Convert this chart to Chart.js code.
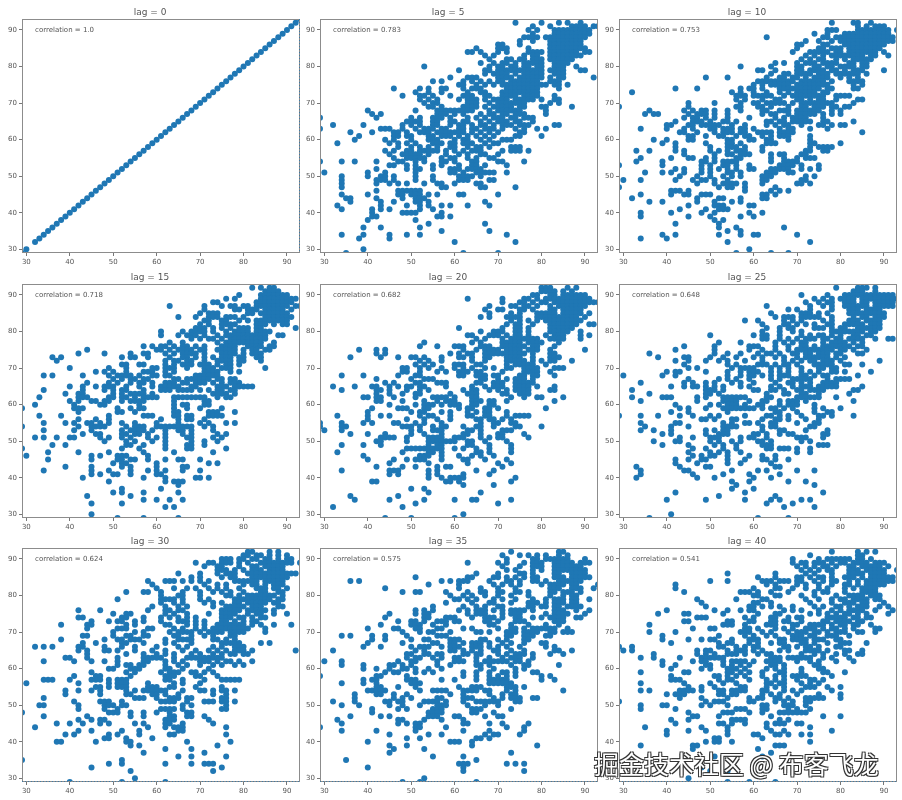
<!DOCTYPE html>
<html>
<head>
<meta charset="utf-8">
<script src="https://cdn.jsdelivr.net/npm/chart.js@4"></script>
<style>
  html, body { margin: 0; padding: 0; background: #fff; }
  #page { position: relative; width: 902px; height: 800px; overflow: hidden; }
  #page canvas { position: absolute; filter: blur(0.3px); }
  #mark {
    position: absolute; left: 594px; top: 745px; z-index: 2; white-space: nowrap;
    font: 25px "Noto Sans CJK SC", sans-serif; color: #fff;
    text-shadow: -1px -1px 0 #333, 1px -1px 0 #333, -1px 1px 0 #333, 1px 1px 0 #333;
  }
</style>
</head>
<body>
<div id="page"><div id="mark">掘金技术社区 @ 布客飞龙</div></div>
<script>
const lags = [0, 5, 10, 15, 20, 25, 30, 35, 40];
const correlations = ["1.0", "0.783", "0.753", "0.718", "0.682", "0.648", "0.624", "0.575", "0.541"];
const tickValues = [30, 40, 50, 60, 70, 80, 90];

// lag 0 sits on the diagonal, x = y
const lag0Values = [29,30,32,33,34,35,36,37,38,39,40,41,42,43,44,45,46,47,48,49,50,51,52,53,54,55,56,57,58,59,60,61,62,63,64,65,66,67,68,69,70,71,72,73,74,75,76,77,78,79,80,81,82,83,84,85,86,87,88,89,90,91,92,93];

// the others are read row by row: [y, [x, x, ...]]
const lag5Rows = [
[92,[74,80,84,86,89]],[91,[78,82,87,88,89,90,92,93]],[90,[77,79,83,84,85,86,87,88,89,90,91]],[89,[78,83,84,85,86,87,88,89,90,91]],
[88,[76,77,78,79,81,82,83,84,85,86,87,88,89,90]],[87,[75,78,82,83,84,85,86,87,88,89]],[86,[70,71,75,82,83,84,85,86,87,88,89]],
[85,[65,70,71,72,77,82,83,84,85,86,87,88,89,90]],[84,[63,64,66,70,72,77,78,79,80,82,83,84,85,86,87,88,90,91]],[83,[67,69,76,78,79,82,83,84,85,86,87,88,89]],
[82,[68,72,73,75,76,78,79,80,82,83,84,85,86,87]],[81,[66,69,71,72,74,76,77,78,79,80,83,84,85,86]],[80,[53,68,70,71,73,74,76,77,79,80,83,84,85,88]],
[79,[61,67,68,70,71,72,73,74,75,76,77,78,79,80,82,83,84,85,89,90]],[78,[67,69,70,71,72,74,76,77,78,79,80,83,84,85]],[77,[59,63,64,65,70,71,72,73,75,76,77,78,79,80,82,84,85,92]],
[76,[55,57,62,64,66,68,70,71,73,74,75,76,77,78,79,82,83,84]],[75,[61,62,65,67,69,71,72,73,74,75,76,77,78,79,80,81,83,84,86]],[74,[46,52,54,57,58,62,64,65,66,72,73,74,75,76,77,78,79,84]],
[73,[51,54,57,63,66,67,71,72,73,74,75,76,77,78,79]],[72,[48,52,53,55,59,62,63,64,67,68,71,72,73,74,76,77,78,79,83]],[71,[52,54,56,61,63,64,65,67,69,70,71,72,74,75,76,77,78,80,83,84]],
[70,[53,55,56,63,64,65,68,70,71,72,73,74,75,76,82,84]],[69,[54,55,57,62,63,64,65,67,69,70,71,72,73,75,76,80,81,87]],[68,[40,51,56,57,58,59,60,61,62,63,64,68,70,71,72,73,74,75,81]],
[67,[41,43,56,57,58,60,62,66,68,69,71,72,74,75,76,81]],[66,[29,42,50,52,55,56,57,59,63,65,67,69,70,71,73,74,76,77,78]],[65,[49,50,51,52,55,56,59,60,62,63,66,68,70,71,72,74,75,78]],
[64,[32,39,48,50,52,55,56,59,61,62,64,66,67,69,71,72,73,75,76,77,83,84]],[63,[29,43,44,45,48,51,53,54,55,57,58,61,62,64,65,67,68,69,71,74,76,79,81]],[62,[36,41,46,47,49,52,53,54,56,57,58,59,60,61,62,64,66,68,70,75,76]],
[61,[38,46,47,49,50,54,55,57,58,59,61,63,65,67,69,74,75,80]],[60,[37,44,46,50,54,55,56,60,62,63,66,68,71,72,73]],[59,[33,45,47,49,51,55,56,57,59,60,62,63,64,67,69,70]],
[58,[47,50,52,54,56,59,60,63,65,66,68,73,74,75]],[57,[44,46,49,50,52,53,54,55,56,58,60,62,64,65,66,71,73,74,75,77]],[56,[45,48,49,50,51,52,54,58,61,63,66,67,70]],
[55,[46,49,50,51,52,53,57,59,60,63,65,68,69]],[54,[29,34,37,42,47,48,51,53,57,58,60,64,65,70,71,76]],[53,[45,46,49,51,55,57,61,64,65,67,72]],
[52,[42,49,51,52,55,59,60,61,63,64,65,66]],[51,[30,40,44,51,59,60,62,65,66,67,68,69,72]],[50,[34,40,43,44,46,51,55,61,62,63,64,66]],
[49,[34,42,43,44,46,51,55,61,62,63,68,69]],[48,[34,42,45,47,49,53,56,57,60,65,66]],[47,[34,57,58,66,67,74]],[46,[42,47,48,49,50,51,52]],
[45,[34,40,47,48,50,51,52,54,56,61,62,70]],[44,[35,36,42,48,51,52,53]],[43,[36,43,46,51,52,54,67]],[42,[33,43,49,52,54,57,59,63,68]],[41,[34,41,43,45,52,55]],
[40,[41,48,49,50,51,57]],[39,[41,42,56,57,59]],[38,[40,51]],[37,[54,67]],[36,[39,43,52]],[35,[57,68]],[34,[34,39,45,49,52,72]],[33,[38,45]],[32,[60,74]],[30,[39]],[29,[35,62,70]]
];
const lag10Rows = [
[92,[78,83,84,87]],[91,[84,86,88,89,90]],[90,[77,78,79,84,85,86,87,88,89,90,91,93]],[89,[74,77,81,82,83,84,85,86,87,88,89,90,91]],
[88,[63,76,77,79,80,81,82,83,84,85,86,87,88,89,90,91,92]],[87,[72,75,78,80,81,82,83,84,85,86,87,88,89,90,91,92]],[86,[70,71,76,77,81,82,83,84,85,86,87,88,89,90]],
[85,[70,75,76,78,79,80,82,83,84,85,86,87,88,89]],[84,[69,73,74,75,76,77,79,80,82,83,84,85,86,87,88,90]],[83,[72,74,76,78,79,80,81,82,83,84,85,87,88,91]],
[82,[71,73,75,76,79,81,83,84,85,86,87]],[81,[65,67,70,72,73,74,76,77,78,79,82,83,85,86]],[80,[57,64,70,71,74,75,77,78,80,81,82,83,85,86]],
[79,[61,62,65,70,71,73,74,75,76,78,79,81,83,84,85,90]],[78,[64,67,68,70,71,72,73,75,76,77,79,80,81,82,83,84,86]],[77,[49,54,63,66,67,69,70,72,74,75,76,77,80,82,84]],
[76,[61,62,63,64,65,66,67,68,69,71,72,73,74,75,76,78,82,83,84,85]],[75,[60,62,64,65,66,67,68,70,71,72,73,74,75,76,77,83,85]],[74,[42,47,57,59,60,62,66,67,68,69,70,71,72,73,74,75,77,78,83,84]],
[73,[32,55,57,60,63,66,68,70,71,72,73,74,76,77]],[72,[56,57,58,60,61,62,63,64,67,69,70,71,72,73,74,75,76,79,80,81,82]],[71,[56,58,62,65,66,70,71,73,75,76,79,84,85]],
[70,[45,51,57,60,61,63,64,65,66,67,69,71,72,73,74,75,76,77,78,83]],[69,[29,45,56,57,61,62,64,68,71,72,74,75,76,78,79,81,82]],[68,[36,44,46,48,49,51,54,57,62,63,66,67,68,70,71,72,73,74,75,78,80]],
[67,[35,37,38,45,47,48,49,51,54,62,64,65,68,70,71,72,73,74,76,78,80]],[66,[44,46,47,49,51,54,59,65,67,69,70,71,72,76]],[65,[42,46,47,48,50,53,54,56,63,64,66,67,69,70,71,72,73,76,77,83]],
[64,[40,41,45,46,48,49,50,51,52,55,58,63,65,67,68,71,75,76,78,80,81]],[63,[34,40,44,46,50,51,53,54,55,57,58,60,66,68,69,73,77]],[62,[43,44,47,51,53,54,55,57,58,61,62,63,64,66,67,68,69,85]],
[61,[45,46,49,52,53,56,58,59,62,64,66,67,68,73]],[60,[37,40,45,46,54,55,59,60,63,64,68,73]],[59,[39,42,49,54,55,57,63,64,65,73,74,80]],
[58,[42,50,54,55,56,58,62,73,75,76,77,78]],[57,[33,36,42,44,50,52,54,56,57,58,62,72,73,76,77]],[56,[44,51,54,55,57,58,59,64,66,67,71,72]],
[55,[34,41,45,46,49,51,56,57,64,67,70,72,73,74]],[54,[33,39,48,49,51,53,54,55,56,64,67,68,69,70]],[53,[29,39,48,50,53,54,56,59,66,67,68,69,71,75]],
[52,[42,44,48,50,52,54,56,59,60,64,65,66,67,68,71,73,75]],[51,[35,39,41,44,48,50,54,55,57,63,64,65,68,69]],[50,[43,47,50,53,55,57,62,63,64,72,74]],
[49,[30,34,42,46,48,49,51,54,62,63,71,72]],[48,[47,51,53,54,55,56,58,62,70,71,73]],[47,[29,52,54,55,58,65]],[46,[41,42,43,45,58,64,66,68]],
[45,[34,41,44,45,48,49,50,62,63,65]],[44,[32,47,52,53,57,62,63]],[43,[36,39,47,51,55,57]],[42,[45,51,52,53,59,60]],[41,[43,49,52,53,54]],[40,[34,41,48,51,59,62]],
[39,[34,45,50,57,60]],[38,[51,53]],[37,[42,52]],[36,[52,56,67]],[35,[54,57]],[34,[39,42,52,57,60,61,70]],[33,[34,40]],[32,[54,73]],[30,[59]],[29,[56,64,68]]
];
const lag15Rows = [
[92,[82,84,86,87]],[91,[85,86,87,88]],[90,[79,84,85,86,87,88,89,90]],[89,[76,78,84,85,86,87,88,89,90,91,92]],[88,[73,74,83,84,85,86,87,88,89,90,91]],
[87,[63,71,75,77,78,80,81,83,84,85,86,87,88,89,90,92,93]],[86,[71,78,79,81,82,83,85,86,87,88,89,91]],[85,[70,72,73,74,81,82,84,85,86,87,88,89,90]],
[84,[65,69,72,73,74,76,77,78,80,85,86,87,88,89,90,91]],[83,[71,72,75,76,79,81,83,84,85,86,87,88,89,90]],[82,[70,72,75,76,77,78,83,84,85,87,89,90]],
[81,[69,70,71,73,75,77,79,80,81,83,84,92]],[80,[61,66,68,69,70,71,73,76,78,79,80,81,83,84,85,86]],[79,[61,65,67,68,69,71,74,76,77,78,79,80,81,82,83,84,85,88,89]],
[78,[68,70,72,73,75,77,78,79,80,81,82,83,84,85]],[77,[63,66,74,76,77,78,79,80,81,82,83,84,87]],[76,[57,59,61,62,64,66,67,69,71,75,76,77,78,81,82,83,84,86,87]],
[75,[44,60,61,63,65,66,67,68,70,71,74,75,76,77,78,80,82,83,85,86]],[74,[42,48,54,57,58,62,64,66,67,68,69,71,75,76,77,78,80,82,83,84]],[73,[36,38,52,54,55,58,63,66,67,69,71,73,75,76,77,79,80,83,84]],
[72,[37,62,64,65,67,68,71,74,75,76,77,79,80,84]],[71,[52,53,56,57,62,64,66,67,68,70,71,72,74,76,77,79]],[70,[40,49,53,59,60,62,63,64,67,71,72,73,75,76,77,85]],
[69,[46,48,50,53,57,58,59,62,64,71,72,73,74,77,79]],[68,[34,36,43,49,51,52,53,54,56,59,60,62,63,69,70,71,72,73,74]],[67,[50,52,54,55,57,58,64,65,67,68,69,70,71,72,74,75,77,78]],
[66,[44,49,51,54,56,57,59,62,63,64,66,67,69,70,71,73,75,77,78,79]],[65,[40,43,46,48,49,50,53,56,59,61,62,63,64,65,68,69,74,75,76,78,79,80,81,82]],[64,[34,43,48,50,52,53,57,61,62,63,65,66,67,68,70,72,74,75,77,78]],
[63,[39,42,43,50,52,54,55,56,57,59,73,74,75,76,78]],[62,[33,42,43,44,49,50,52,53,55,57,58,59,60,64,65,66,67,68,69,70,71,74,76,77]],[61,[40,42,45,46,48,49,52,54,55,56,57,64,71,72]],
[60,[32,41,47,48,56,64,66,67,71,72]],[59,[29,41,42,43,51,54,56,57,64,67,70,75]],[58,[42,51,52,55,64,65,72,73,74,78]],[57,[33,38,49,57,58,59,64,65,67,68,72,73,74,75]],
[56,[42,46,49,61,65,67,68,71]],[55,[34,39,41,44,45,47,49,52,55,60,65,70,72,76,78]],[54,[29,42,45,46,47,48,53,55,56,57,60,61,62,63,64,65,66,67,68,71,73]],
[53,[34,41,45,52,54,55,56,57,59,62,65,66,68,73]],[52,[43,46,47,52,53,55,56,58,62,66,68,74,76]],[51,[32,34,37,40,41,47,49,52,54,58,60,62,67,68,73,75]],
[50,[48,53,55,59,62,68,71,74]],[49,[36,39,53,54,57,62,67,68,71]],[48,[29,52,56,62,67,68,76]],[47,[35,42,49,57,64,73]],[46,[30,45,47,51,52,53,58]],
[45,[35,45,51,52,54,55,58,62,65,66,70]],[44,[50,52,53,60,72,74]],[43,[39,45,52,54,60,66,67]],[42,[34,45,49,54,58,60,62,66,70]],[41,[45,47,50,51,54,60,61]],
[40,[43,57,62,69,70,72]],[39,[49,62,64,65,66]],[38,[65]],[37,[52,61]],[36,[50,52,57,65]],[35,[44,54]],[34,[57,60,63,66]],[33,[45,52]],[32,[62,64]],[30,[45]],[29,[51,57,65]]
];
const lag20Rows = [
[92,[80,81,82,86,88]],[91,[80,81,82,83,85,87]],[90,[78,79,82,83,85,86,87,88,89,90]],[89,[63,71,76,77,79,81,82,83,84,85,86,87,88,89,90,91]],
[88,[71,75,76,78,80,81,83,84,85,86,87,88,89,90,91,92,93]],[87,[68,73,74,76,77,79,82,84,85,86,87,88,89,90]],[86,[67,70,71,75,76,78,82,83,85,86,87,88,89]],
[85,[68,73,75,79,80,81,82,83,85,86,87,88,89,91]],[84,[66,68,72,73,74,75,79,80,81,82,83,84,85,86,87,88,90]],[83,[73,75,77,79,81,82,83,84,85,86,87,88,89]],
[82,[72,74,75,78,82,83,84,85,86,87,88,91,92]],[81,[61,71,74,75,77,82,83,84,85,86,87]],[80,[66,69,70,71,74,75,77,82,83,84,85,86,89]],
[79,[63,64,68,69,70,72,74,75,77,81,83,84,85,89,91]],[78,[65,67,71,73,74,75,76,77,78,79,82,83,84,85,89]],[77,[53,64,66,71,72,73,74,75,77,78,79,80,84]],
[76,[52,56,60,61,62,66,67,68,71,72,73,74,75,76,78,79,83]],[75,[38,42,44,62,65,67,68,69,70,72,73,74,75,77,78,79,82,90]],[74,[42,44,59,61,63,64,67,68,69,70,71,72,73,74,75,76,78,82,83]],
[73,[36,43,47,50,51,53,57,61,62,64,67,68,72,73,74,75,78,82,83,84]],[72,[52,54,57,64,67,72,73,74,75,76,78,80,82,83,87]],[71,[51,53,55,60,61,62,65,66,72,74,75,76,77,78,81]],
[70,[48,49,52,54,57,60,62,64,67,69,72,73,76,77,78,79,83,84,85]],[69,[48,49,52,56,58,61,62,63,65,66,71,76,77,78,79,82]],[68,[34,39,47,51,52,61,62,65,66,67,69,70,75,76,78,79,83]],
[67,[42,50,53,54,55,66,67,70,72,74,75,76,78]],[66,[44,46,51,52,56,57,58,65,66,69,70,71,74,75,76,77,78]],[65,[32,37,41,42,45,47,49,50,52,53,58,64,67,69,70,71,74,75,76,77,79,83]],
[64,[34,42,43,45,49,52,54,62,64,65,68,70,72,74,75,76,77,82,83]],[63,[42,45,48,51,52,59,63,64,65,71,72,75,76,77]],[62,[39,40,42,43,46,51,55,56,57,58,60,64,65,73,76,79,80,85]],
[61,[42,43,48,53,56,58,59,60,64,65,66,68,69,72,83]],[60,[45,51,53,54,55,57,59,60,61,64,65,68,69]],[59,[41,47,48,49,53,54,61,63,64,67,68,70,81]],
[58,[40,50,52,53,57,59,63,65,67,68,72]],[57,[33,40,43,45,52,54,55,59,63,64,67,68,72,74,75,76,77]],[56,[40,49,53,56,59,65,66,68,69,71,73]],
[55,[29,34,39,41,46,47,51,53,57,66,69,70,73,74]],[54,[29,34,35,48,49,50,52,55,57,58,62,65,66,69,74,75,80]],[53,[30,34,50,52,55,56,57,63,64,66,71,72,73]],
[52,[36,40,44,50,53,57,62,63,66,70,71,76]],[51,[43,44,45,46,49,54,55,56,57,60,61,62,66,68,70,71,77]],[50,[42,43,49,54,55,56,57,58,59,60,63,64,67,72]],
[49,[34,39,43,54,56,57,63,64,68,73]],[48,[49,50,51,52,53,54,55,56,57,60,62,65,68,73]],[47,[33,48,54,55,57,65,66,68,73]],[46,[39,52,53,54,57,61,64,66,69]],
[45,[40,46,49,51,52,53,57,62,63,67,72]],[44,[45,54,63,70,73]],[43,[42,48,51,56,58,59,71]],[42,[34,45,46,47,54,56,65,69]],[41,[45,47,54,56,62,68]],
[40,[54,57,59,60,61,62,74]],[39,[41,42,58,59,61,73]],[38,[62,69]],[37,[50,53]],[36,[54,66]],[35,[36,47]],[34,[37,45,53,60,64,65,73]],[33,[51,70]],[32,[32,48]],[30,[62]],[29,[44,50,60]]
];
const lag25Rows = [
[92,[79,84,85,86,88]],[91,[83,84,85,88]],[90,[71,77,81,82,83,84,85,86,87,88,89,90,91,92]],[89,[74,76,78,80,81,82,83,85,86,87,88,89,90,91,92,93]],
[88,[72,75,77,78,81,82,83,85,86,88,89,90,91,92]],[87,[63,73,76,78,81,82,83,84,85,86,88,89,90,91,92]],[86,[68,70,73,78,82,83,84,86,87,88,89]],
[85,[64,71,72,73,75,77,82,83,84,85,86,87,88,89,90]],[84,[65,67,68,69,71,72,73,74,75,78,83,85,86,88,89,90]],[83,[58,61,67,69,71,76,78,82,83,84,86,87,88,89]],
[82,[62,67,68,70,72,74,77,78,81,82,83,84,85,87,88,89]],[81,[63,66,68,69,74,75,76,78,80,81,84,85,86,87,88,89]],[80,[62,66,69,71,78,79,80,81,82,83,84,85,87,88]],
[79,[50,60,62,63,66,71,73,75,76,78,80,83,84,86,87]],[78,[62,63,66,68,70,72,73,74,76,77,79,80,82,83,84,85,88,91,92]],[77,[52,57,65,67,69,71,72,76,78,79,80,81,83,85]],
[76,[44,51,59,60,61,65,68,71,72,74,76,77,78,79,80,81,82,84,85]],[75,[42,51,59,62,65,68,70,71,72,73,74,75,76,77,78,80,81,83,86]],[74,[36,51,54,57,61,63,64,66,69,70,72,73,75,76,77,79,80,84,85]],
[73,[38,44,45,50,53,56,60,62,65,67,70,72,73,74,75,76,77,79,81]],[72,[42,45,49,52,54,58,62,67,69,71,73,74,76,77,78,80,89]],[71,[44,54,56,61,62,63,65,67,68,70,74,75,76,77,78,81,82,85]],
[70,[45,47,55,57,58,59,60,64,66,68,71,75,76,78,79]],[69,[40,42,43,49,54,57,59,60,61,64,66,68,71,73,75,78,79,81,87]],[68,[30,39,42,54,57,59,60,62,64,66,67,68,71,72,74,76,77,84]],
[67,[45,52,54,56,59,64,66,69,70,71,72,73,77,79,80,81,82]],[66,[34,44,46,49,51,55,57,60,65,68,69,71,73,76,77,78,79]],[65,[41,44,46,47,49,51,53,57,59,64,66,69,71,72,73,75,76,77,78,79,85]],
[64,[32,49,50,51,53,60,61,64,65,67,70,71,73,74,75,76,83,84]],[63,[36,49,50,52,63,67,68,71,72,75,82]],[62,[32,39,40,41,47,49,53,54,55,56,57,58,63,64,70,71,72,73,74,75,79]],
[61,[34,47,53,54,55,56,59,62,63,66,68,69,70,72,83]],[60,[42,50,52,54,55,56,58,61,62,66,68,69,70,74]],[59,[43,45,49,53,54,55,56,57,58,59,60,62,64,65,67,69,74,76,80]],
[58,[41,45,54,65,66,70,74,77,78]],[57,[29,34,38,43,46,50,52,58,63,64,66,68,71,75,76,78,83]],[56,[48,49,51,55,56,62,65,66,68,72,75]],[55,[34,42,43,53,55,58,59,61,64,65,70,74,75]],
[54,[35,41,45,53,54,55,56,62,64,65,73,74]],[53,[34,37,41,49,51,53,54,62,66,67,72,77]],[52,[39,41,49,52,53,54,60,61,63,66,68,69,76,77]],[51,[43,46,50,51,52,57,59,60,63,70,71,72,76]],
[50,[37,42,43,50,52,55,57,61,62,64,71,73]],[49,[39,45,51,53,56,62,63,64,75,76,77]],[48,[46,49,53,56,63,64,66,67,68,70,73]],[47,[45,50,52,54,57,70,73]],[46,[46,48,50,51,54,59,62,65]],
[45,[42,45,48,49,54,58,62,63,65,68]],[44,[42,47,54,57,64]],[43,[33,43,49,50,65,66]],[42,[34,44,45,55,61,63,70,74]],[41,[34,46,53,59,66]],[40,[33,47,51,60,64]],
[39,[55,59,68,72]],[38,[56,74]],[37,[55,60]],[36,[42,58,76]],[35,[52,65]],[34,[40,49,58,64,66,71,73]],[33,[63,69]],[32,[67,74]],[30,[41]],[29,[36,61,68]]
];
const lag30Rows = [
[92,[81,82,86,88]],[91,[80,81,83,84,86,88,90]],[90,[75,76,77,79,80,82,83,85,86,88,90,91]],[89,[69,72,73,75,76,77,79,81,84,85,86,87,88,89,90,91,93]],
[88,[71,74,75,79,82,83,85,86,87,88,89]],[87,[74,75,76,78,80,82,83,84,86,87,88,89]],[86,[65,70,74,76,77,78,81,82,83,84,85,86,87,88,89,90,91,92]],
[85,[68,70,75,77,78,82,83,84,85,86,87,88,89,90]],[84,[58,62,63,64,66,68,70,72,78,79,80,81,82,83,85,86,87,88,89]],[83,[59,71,74,76,80,82,83,85,87,88,89]],
[82,[60,64,67,69,72,74,76,79,83,84,85,87,88,90]],[81,[53,57,58,61,66,70,73,75,77,80,84,85,88,89]],[80,[61,65,66,70,76,77,79,81,82,83,84,85,86,87,89]],
[79,[51,61,62,63,64,66,70,72,78,79,80,81,82,83,84,85,86,88,89]],[78,[61,64,66,71,73,75,78,79,81,82,83,84,85,87,88]],[77,[59,62,65,67,73,76,77,78,79,80,82,83,84,88,89]],
[76,[42,47,58,62,63,65,66,75,76,77,78,79,81,82,83,84,85,87]],[75,[50,53,54,62,64,67,72,75,76,77,78,81,83,84,87,90]],[74,[42,43,52,53,57,61,63,65,67,69,75,76,77,79,80,82,84,85]],
[73,[45,49,51,52,55,57,61,65,66,67,69,71,75,76,78,80,82,83]],[72,[38,44,45,53,55,62,63,67,69,71,74,75,76,77,78,79,80,82,84,87,91]],[71,[44,51,52,53,58,59,64,66,69,71,73,74,75,76,77,78,79,80,81,85]],
[70,[50,55,57,63,65,66,67,68,70,72,73,74,75,77,78,79,80,85]],[69,[43,44,50,53,54,57,58,64,65,68,71,73,77,78]],[68,[38,48,51,52,54,55,56,62,65,66,67,68,73,74,76,78]],
[67,[43,46,52,53,57,62,64,68,75,76,77,78,79,84,86]],[66,[32,34,36,42,43,48,52,55,60,65,67,73,75,78,79,80]],[65,[42,44,48,49,51,55,59,62,66,69,72,74,76,78,79,80,82,92]],
[64,[44,53,57,60,62,64,68,70,73,75,77,78,80,81]],[63,[39,40,44,51,57,58,59,60,61,64,67,68,69,70,71,72,73,74,75]],[62,[34,41,45,48,51,57,58,62,64,66,70,71,72,74,76,77,79,82]],
[61,[51,53,54,56,57,62,65,67,70,73,75,78,80]],[60,[49,50,54,55,56,62,63,66,72]],[59,[45,53,55,61,63,64,65,68,69,71,73]],[58,[41,46,47,54,62,63,64,69,70,74]],
[57,[34,35,36,40,45,46,47,49,51,52,53,62,63,66,71,75,76,77,78,79]],[56,[30,42,49,51,52,53,58,64,66,70]],[55,[46,47,49,51,52,53,58,59,60,63,64,69,75]],
[54,[39,42,45,47,53,55,57,58,59,60,61,62,66,70,71,73,75,76,78]],[53,[39,47,53,54,59,60,62,65,73,76]],[52,[34,55,56,57,60,63,64,65,67,68,75,76]],
[51,[41,47,48,49,52,61,62,63,64,67,71,72,73,75,76,78]],[50,[33,34,42,48,49,50,52,53,66,68,76]],[49,[42,48,51,61,62,63,64,66,75,76]],[48,[29,49,50,51,54,57,60,63,67,68]],
[47,[34,44,54,57,63,64,67,68,71]],[46,[42,45,47,48,62,63,64,72]],[45,[37,40,43,47,49,55,57,62,63,66,73]],[44,[32,58,62,64,65,66,76]],[43,[42,45,52,56,65,66]],
[42,[39,41,49,51,56,63,64,76]],[41,[48,49,53,59]],[40,[37,38,46,53,54,67,77]],[39,[54,56,74]],[38,[62,68]],[37,[57,71]],[36,[65,68,76]],[35,[29,52]],
[34,[49,52,62,68,71,72,73]],[33,[45,75]],[32,[54,73]],[30,[55]],[29,[40,52,62]]
];
const lag35Rows = [
[92,[73,84,85]],[91,[71,75,77,79,81,84,86]],[90,[72,78,79,81,82,83,84,85,86,90]],[89,[63,70,72,76,78,79,80,83,84,85,86,87,89,90,91]],
[88,[71,75,78,79,80,83,84,85,86,87,88,89]],[87,[72,74,78,80,83,84,85,86,87,88,89,90]],[86,[65,70,75,76,78,83,84,87,88,89,90]],
[85,[51,63,64,69,70,72,74,76,78,79,83,84,85,87,88,89,90,91]],[84,[36,38,57,59,61,62,63,68,72,73,75,78,79,81,84,85,86,87,88,89]],[83,[54,61,69,71,73,75,80,82,83,84,85,87,88,93]],
[82,[44,61,66,70,74,82,83,84,87,88,89,92]],[81,[48,51,52,58,63,66,67,70,71,74,75,77,82,83,85,86,87,89]],[80,[59,62,64,67,70,73,77,82,85,87,88]],
[79,[60,61,63,65,69,71,74,78,81,83,84,85,87,88,91]],[78,[58,64,68,69,73,77,78,79,81,83,84,85,87,88]],[77,[55,62,65,67,70,71,77,78,80,81,83,84,86,87,88,89]],
[76,[51,53,55,61,63,65,66,67,69,71,73,74,75,76,78,83,84,85,88,91]],[75,[45,51,53,54,63,65,66,67,71,73,74,75,81,83,84,85,86,90]],[74,[44,53,54,58,59,60,64,67,68,69,71,74,75,78,80,82,83,84,85,88,89]],
[73,[47,50,51,53,56,57,58,60,61,67,68,70,74,75,76,83,84,85]],[72,[43,50,51,52,55,58,68,69,73,77,81,84]],[71,[40,46,47,51,52,56,57,62,64,70,73,74,76,78,79,80,81,82,83,86]],
[70,[48,52,54,55,59,65,66,68,72,73,74,76,77,78,79,82,83,85,86,87]],[69,[34,36,41,44,49,56,57,58,72,73,76,77,78,81,82]],[68,[41,44,50,53,54,59,60,61,66,67,70,72,76,77]],
[67,[40,48,55,56,59,60,62,64,65,66,68,71,73,76,80,81]],[66,[39,43,50,52,53,54,57,59,60,61,64,65,66,68,70,72,75,81,83]],[65,[32,51,53,59,60,62,64,66,69,70,73,76,83,84,87]],
[64,[49,50,53,54,56,57,62,63,65,66,70,72,74,75,76,78,82,85]],[63,[49,51,52,55,57,60,61,65,68,71,73,74,75,78]],[62,[30,34,47,50,51,56,60,61,62,65,67,68,69,70,71,72,74,75,77]],
[61,[34,39,45,46,48,50,56,59,65,66,68,73,76,77,84]],[60,[39,42,45,48,49,51,54,57,66,69,74,76]],[59,[44,46,47,51,53,55,62,65,68,71,72,74,78,79]],
[58,[29,42,43,49,62,65,68,70,72,74,80,82]],[57,[39,41,42,49,50,51,57,60,65,68,69,70,71,72,80,83]],[56,[34,39,42,50,51,52,68,69,70,71,72,73]],
[55,[42,43,47,51,61,64,65,66,72,73,74,76]],[54,[40,41,42,43,44,52,55,56,57,58,62,63,64,65,67,68,72,74,85]],[53,[37,42,43,46,49,59,62,68,71,73,74]],
[52,[37,46,48,50,56,57,62,63,64,69,71,73,74,75,78,79]],[51,[32,37,44,45,47,48,53,54,55,56,58,62,65,66,67,68,69,70,74,75]],[50,[34,38,45,48,52,56,57,58,63,67,70]],
[49,[41,47,49,55,56,57,64,65,66,73]],[48,[41,54,55,56,57,64,65,69]],[47,[36,43,45,54,55,56,60,61,67,70,71]],[46,[33,47,48,53,57,62]],[45,[34,47,49,51,52,62,63,68,71,77]],
[44,[29,51,52,58,72,76]],[43,[34,42,51,62,68,76]],[42,[45,54,57,67,69,70,75]],[41,[49,52,65,66,68]],[40,[40,59,60,61,64]],[39,[45,49,64,79]],[38,[46,53]],[37,[45,73]],
[36,[55,62]],[35,[35,65]],[34,[61,62,63,72,74,76]],[33,[40,62]],[32,[62,76]],[30,[53]],[29,[48,52,65]]
];
const lag40Rows = [
[92,[78,84,86,88]],[91,[73,84,85]],[90,[69,75,77,78,79,80,81,82,84,85,87]],[89,[69,71,72,74,75,76,78,80,81,83,84,85,86,88,89,90]],
[88,[70,72,74,76,77,79,82,83,85,86,87,88,89,91]],[87,[71,73,75,77,78,82,83,84,86,87,88,89,90,93]],[86,[54,65,72,74,78,82,83,84,85,87,88,89,90]],
[85,[61,65,70,71,73,75,76,78,81,82,83,85,87,88,89,90,91,92]],[84,[50,54,62,63,64,66,67,68,70,71,74,76,78,79,82,84,86,87,88,89,90,91,92]],[83,[42,63,65,70,72,75,78,81,82,84,86,87,88,89,90]],
[82,[42,60,65,66,69,72,75,77,81,83,85,86,87,88]],[81,[44,57,58,59,61,64,68,74,76,77,81,85,86,87,88]],[80,[60,61,65,66,71,74,79,82,83,84,85,87,88,89]],
[79,[47,56,62,63,72,75,78,80,81,83,84,85,86,88,89]],[78,[48,60,61,64,73,78,81,82,83,85,86,90]],[77,[49,59,60,62,64,66,69,74,76,79,80,82,84,85,86,89,91]],
[76,[40,51,54,57,59,60,67,69,71,75,78,80,82,83,84,85,88,92]],[75,[38,44,45,53,61,65,66,73,75,77,79,81,82,84,86,91]],[74,[47,48,49,58,60,64,65,68,70,71,77,78,79,80,81,83,84,86,87]],
[73,[44,45,54,55,59,60,64,65,67,68,71,76,77,79,80,81,82,84,85]],[72,[36,53,54,55,58,63,64,65,69,70,73,74,75,76,78,80,81,83,84,87]],[71,[46,50,51,58,59,61,65,67,69,72,73,74,76,78,79,81,83,88,89]],
[70,[36,42,57,58,59,62,64,68,70,71,72,74,75,77,79,80,81,84,85,88]],[69,[39,52,58,60,63,65,69,70,71,73,74,77,78,79,82]],[68,[39,45,48,50,51,55,59,60,61,66,67,69,70,71,72,74,75,76,79,80]],
[67,[41,52,54,55,59,61,64,66,67,71,72,74,77,80,81,82,86]],[66,[29,32,52,53,56,58,60,61,67,68,70,72,73,75,79,80]],[65,[30,32,47,49,50,54,56,57,58,60,62,66,68,72,73,74,75,77,81,82,85]],
[64,[37,47,49,51,54,55,56,58,61,63,64,71,74,76,79,81,84,85]],[63,[34,37,43,48,49,50,51,52,53,64,65,66,68,69,70,71,72,73,76,78,82]],[62,[39,46,48,49,53,55,56,57,58,60,63,64,65,66,70,73,75,79,83]],
[61,[39,42,49,50,53,55,57,59,64,65,67,74,75]],[60,[41,48,50,54,55,56,58,63,65,67,71,75,76]],[59,[34,44,45,54,55,57,59,62,66,67,71,76,77,81]],
[58,[41,51,52,54,56,58,62,65,67,69,70,71,72,78]],[57,[41,42,43,52,54,55,59,63,65,67,70,73,74,76]],[56,[34,44,50,53,56,63,64,66,67,71,73,75]],
[55,[45,48,51,57,58,63,65,67,72,73,74,77,80]],[54,[34,36,43,44,45,46,48,52,53,55,56,57,58,62,63,67,69,71,78]],[53,[40,42,43,44,52,53,55,56,62,64,66,70,75,80]],
[52,[43,48,54,59,61,62,65,66,68,72,73,74,75,76,80]],[51,[29,49,51,52,53,59,60,65,67,69,72,73]],[50,[34,39,40,48,50,54,62,63,67,68,69,72]],[49,[34,42,56,57,58,62,63,68,70,73]],
[48,[45,53,54,55,59,62,66,67,68,69,70,71,72]],[47,[46,47,52,64,76,80]],[46,[41,45,55,56,57,58,66,68]],[45,[42,52,53,55,58,63,65,66,67,70,71]],[44,[35,48,54,63,73]],
[43,[40,45,49,54,64,67,78]],[42,[40,54,60,61,65,66,68,71,73]],[41,[51,52,62]],[40,[49,51,52,55,73]],[39,[34,46,47,65,66,67]],[38,[46,61]],[37,[64]],[36,[51,62]],
[33,[48]],[32,[50,54]],[30,[45]],[29,[54,59,65]]
];

const rowsToPoints = (rows) => rows.flatMap(([y, xs]) => xs.map((x) => ({ x: x, y: y })));
const panelPoints = [
  lag0Values.map((v) => ({ x: v, y: v })),
  rowsToPoints(lag5Rows), rowsToPoints(lag10Rows), rowsToPoints(lag15Rows), rowsToPoints(lag20Rows),
  rowsToPoints(lag25Rows), rowsToPoints(lag30Rows), rowsToPoints(lag35Rows), rowsToPoints(lag40Rows),
];

// plot area placement on the page
const plotLefts = [22, 320, 619];
const plotTops = [19, 284, 548];
const plotWidth = 278;
const plotHeight = 234;
const axisLeft = 22;
const axisBottom = 17;
const titleSpace = 18;
const blue = "#1f77b4";
const axisGray = "#8c8c8c";
const textGray = "#555";
const tickFont = { family: "DejaVu Sans", size: 7 };

const framePlugin = {
  id: "frame",
  afterDatasetsDraw(chart, args, opts) {
    const { ctx, chartArea: a, scales } = chart;
    ctx.save();
    ctx.strokeStyle = axisGray;
    ctx.lineWidth = 1;
    ctx.strokeRect(a.left + 0.5, a.top + 0.5, a.right - a.left - 1, a.bottom - a.top - 1);
    ctx.setLineDash([1, 2]);
    ctx.strokeStyle = "#3f7ba6";
    if (opts.dottedBottom) {
      ctx.beginPath();
      ctx.moveTo(a.left, a.bottom - 0.5);
      ctx.lineTo(a.right, a.bottom - 0.5);
      ctx.stroke();
    }
    if (opts.dottedRight) {
      ctx.beginPath();
      ctx.moveTo(a.right - 0.5, a.top);
      ctx.lineTo(a.right - 0.5, a.bottom);
      ctx.stroke();
    }
    ctx.setLineDash([]);
    ctx.fillStyle = textGray;
    ctx.font = "7px 'DejaVu Sans'";
    ctx.textBaseline = "middle";
    ctx.fillText("correlation = " + opts.corr, scales.x.getPixelForValue(32), scales.y.getPixelForValue(90));
    ctx.restore();
  },
};

lags.forEach((lag, i) => {
  const col = i % 3;
  const row = Math.floor(i / 3);
  const canvas = document.createElement("canvas");
  const boxW = axisLeft + plotWidth;
  const boxH = titleSpace + plotHeight + axisBottom;
  canvas.style.left = plotLefts[col] - axisLeft + "px";
  canvas.style.top = plotTops[row] - titleSpace + "px";
  canvas.style.width = boxW + "px";
  canvas.style.height = boxH + "px";
  canvas.width = boxW;
  canvas.height = boxH;
  document.getElementById("page").appendChild(canvas);

  const axis = (fit) => ({
    type: "linear",
    min: 29,
    max: 93,
    afterBuildTicks: (scale) => { scale.ticks = tickValues.map((v) => ({ value: v })); },
    afterFit: fit,
    grid: { drawOnChartArea: false, drawTicks: true, tickLength: 3, color: "#777" },
    border: { display: false },
    ticks: { color: textGray, font: tickFont, padding: 2, maxRotation: 0, autoSkip: false },
  });

  new Chart(canvas, {
    type: "scatter",
    data: {
      datasets: [{
        data: panelPoints[i],
        backgroundColor: blue,
        borderColor: blue,
        pointRadius: 3,
        pointBorderWidth: 0,
        clip: 0,
      }],
    },
    options: {
      responsive: false,
      animation: false,
      devicePixelRatio: 1,
      layout: { padding: 0, autoPadding: false },
      scales: {
        x: axis((s) => { s.height = axisBottom; s.paddingLeft = 0; s.paddingRight = 0; }),
        y: axis((s) => { s.width = axisLeft; s.paddingTop = 0; s.paddingBottom = 0; }),
      },
      plugins: {
        legend: { display: false },
        tooltip: { enabled: false },
        title: {
          display: true,
          text: "lag = " + lag,
          color: textGray,
          font: { family: "DejaVu Sans", size: 9, weight: "normal", lineHeight: 1.2 },
          padding: { top: 6.2, bottom: 1 },
        },
        frame: { corr: correlations[i], dottedBottom: row === 2, dottedRight: i === 0 },
      },
    },
    plugins: [framePlugin],
  });
});
</script>
</body>
</html>
